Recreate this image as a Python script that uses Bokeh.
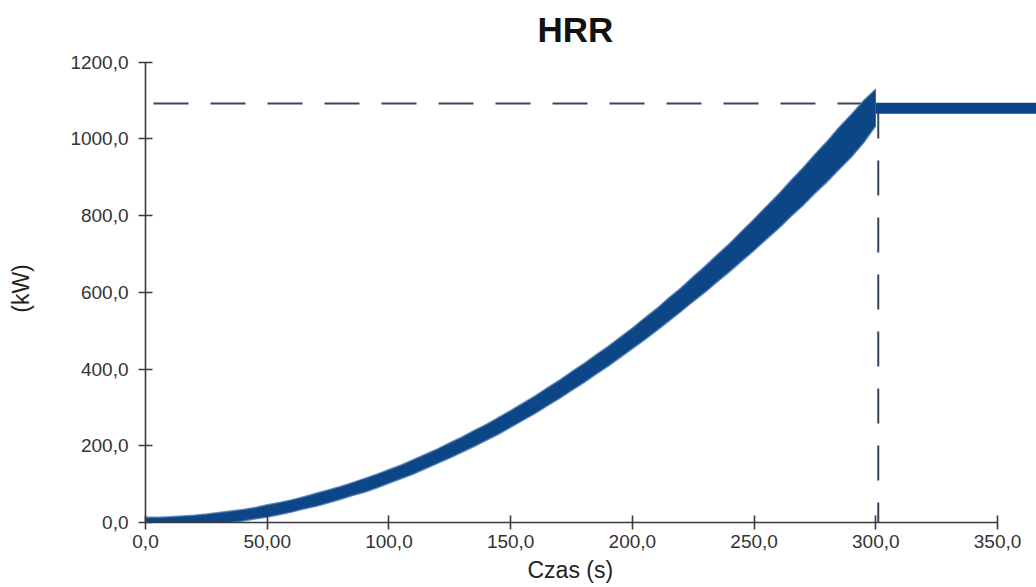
from bokeh.plotting import figure
from bokeh.models import Range1d, FixedTicker, Title
from bokeh.embed import file_html
from bokeh.resources import INLINE

# ---- data ----
time_s = [0, 5, 10, 15, 20, 25, 30, 35, 40, 45, 50, 55, 60, 65, 70, 75, 80, 85, 90, 95,
          100, 105, 110, 115, 120, 125, 130, 135, 140, 145, 150, 155, 160, 165, 170, 175,
          180, 185, 190, 195, 200, 205, 210, 215, 220, 225, 230, 235, 240, 245, 250, 255,
          260, 265, 270, 275, 280, 285, 290, 295, 300]
hrr_kw = [0, 0, 1, 3, 5, 8, 11, 15, 19, 24, 30, 36, 43, 51, 59, 68, 77, 87, 97, 108,
          120, 132, 145, 159, 173, 188, 203, 219, 235, 252, 270, 288, 307, 327, 347, 368,
          389, 411, 433, 456, 480, 504, 529, 555, 581, 608, 635, 663, 691, 720, 750, 780,
          811, 843, 875, 908, 941, 975, 1009, 1044, 1080]
upper_spread_kw = [14, 14, 14, 14, 14, 14, 15, 15, 15, 15, 16,
                   16, 16, 16, 17, 17, 17, 17, 18, 18, 18,
                   18, 19, 19, 19, 20, 20, 21, 21, 22, 22,
                   23, 23, 24, 24, 25, 25, 26, 26, 27, 27,
                   29, 29, 31, 31, 33, 34, 36, 37, 40, 41,
                   44, 45, 48, 49, 52, 53, 56, 55, 56, 50]
lower_spread_kw = [14, 14, 14, 14, 14, 14, 15, 15, 15, 15, 16,
                   16, 16, 16, 17, 17, 17, 17, 18, 18, 18,
                   18, 19, 19, 19, 20, 20, 21, 21, 22, 22,
                   22, 23, 23, 24, 24, 25, 25, 26, 26, 27,
                   28, 29, 30, 31, 32, 34, 35, 37, 38, 41,
                   42, 45, 46, 49, 50, 53, 54, 56, 54, 46]
flat_time_s = [300, 310, 320, 330, 340, 350, 360, 370]
flat_hrr_kw = [1080, 1080, 1080, 1080, 1080, 1080, 1080, 1080]

ref_time_s = 301
ref_hrr_kw = 1092

x_ticks = [0, 50, 100, 150, 200, 250, 300, 350]
x_tick_labels = ["0,0", "50,00", "100,0", "150,0", "200,0", "250,0", "300,0", "350,0"]
y_ticks = [0, 200, 400, 600, 800, 1000, 1200]
y_tick_labels = ["0,0", "200,0", "400,0", "600,0", "800,0", "1000,0", "1200,0"]

x_title = "Czas (s)"
y_title = "(kW)"
chart_title = "HRR"

upper_kw = [h + s for h, s in zip(hrr_kw, upper_spread_kw)]
lower_kw = [h - s for h, s in zip(hrr_kw, lower_spread_kw)]

BLUE = "#0c4687"
EDGE = "#4f7db6"
AXIS = "#3a3a3a"
FONT = "Liberation Sans"

p = figure(width=1036, height=586, output_backend="svg", toolbar_location=None,
           x_range=Range1d(0, 366), y_range=Range1d(0, 1220),
           min_border_left=145, min_border_right=0, min_border_top=54,
           min_border_bottom=64)
p.outline_line_color = None
p.grid.visible = False
p.background_fill_color = "white"
p.border_fill_color = "white"

p.title.text = chart_title
p.title.text_font = FONT
p.title.text_font_size = "35px"
p.title.text_font_style = "bold"
p.title.text_color = "#111111"
p.title.align = "left"
p.title.offset = 392
p.title.standoff = 11

# reference dashed lines
p.line([0, ref_time_s], [ref_hrr_kw, ref_hrr_kw], line_color="#34465e", line_width=2,
       line_dash="35 22", line_dash_offset=49)
p.line([ref_time_s, ref_time_s], [ref_hrr_kw, 0], line_color="#34465e", line_width=2,
       line_dash="35 22")

# measured HRR band
p.varea(x=time_s, y1=lower_kw, y2=upper_kw, fill_color=BLUE)
p.line(time_s, upper_kw, line_color=EDGE, line_width=1.5, line_alpha=0.8)
p.line(time_s, lower_kw, line_color=EDGE, line_width=1.5, line_alpha=0.8)
p.line(flat_time_s, flat_hrr_kw, line_color=BLUE, line_width=11)

for ax in (p.xaxis[0], p.yaxis[0]):
    ax.axis_line_color = AXIS
    ax.axis_line_width = 1.6
    ax.major_tick_line_color = AXIS
    ax.major_tick_line_width = 1.6
    ax.major_tick_in = 7
    ax.major_tick_out = 7
    ax.minor_tick_line_color = None
    ax.major_label_text_font = FONT
    ax.major_label_text_font_size = "19px"
    ax.major_label_text_color = "#333333"
    ax.axis_label_text_font = FONT
    ax.axis_label_text_font_style = "normal"
    ax.axis_label_text_font_size = "23px"
    ax.axis_label_text_color = "#222222"

p.xaxis.ticker = FixedTicker(ticks=x_ticks)
p.xaxis.major_label_overrides = dict(zip(x_ticks, x_tick_labels))
p.xaxis.bounds = (0, 350)
p.xaxis.major_label_standoff = 5

p.yaxis.ticker = FixedTicker(ticks=y_ticks)
p.yaxis.major_label_overrides = dict(zip(y_ticks, y_tick_labels))
p.yaxis.bounds = (0, 1200)
p.yaxis.axis_label = y_title
p.yaxis.major_label_standoff = 10
p.yaxis.axis_label_standoff = 33

xt = Title(text=x_title, align="left", offset=382, text_font=FONT,
           text_font_size="23px", text_font_style="normal", text_color="#222222",
           standoff=8)
p.add_layout(xt, "below")

open("out.html", "w").write(file_html(p, INLINE))
